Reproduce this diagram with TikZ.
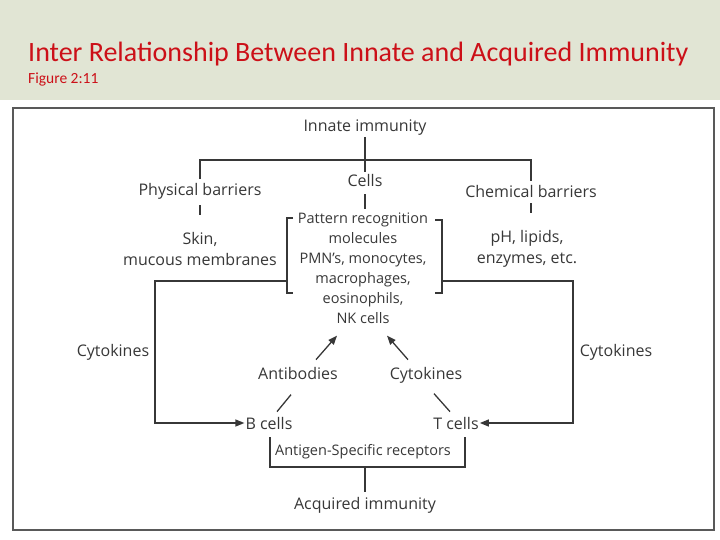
\documentclass[tikz,border=0pt]{standalone}
\usepackage{fontspec}
\setmainfont{Open Sans}
\newfontfamily\titlefont{Carlito}
\usetikzlibrary{positioning,arrows.meta,calc}
\definecolor{hdrgreen}{RGB}{225,229,212}
\definecolor{titlered}{RGB}{204,16,24}
\definecolor{scanink}{RGB}{55,55,55}

\begin{document}
\begin{tikzpicture}[x=1pt, y=-1pt,
    lbl/.style={text=scanink, font=\fontsize{16}{21}\selectfont, inner sep=1pt, align=center},
    conn/.style={draw=scanink, line width=1.3pt},
    arr/.style={conn, -{Triangle[length=9pt,width=7pt]}}]
    \useasboundingbox (0,0) rectangle (720,540);
    \fill[hdrgreen] (0,0) rectangle (720,100);
    \draw[gray!70!black, line width=1.2pt] (13,108) rectangle (714,530);

    \node[anchor=west, text=titlered, font=\titlefont\fontsize{28}{30}\selectfont, inner sep=0pt] (title) at (28,54) {Inter Relationship Between Innate and Acquired Immunity};
    \node[anchor=west, text=titlered, font=\titlefont\fontsize{15.5}{17}\selectfont, inner sep=0pt] (fig) at (28,80) {Figure 2:11};

    % innate side
    \node[lbl] (innate) at (365,128) {Innate immunity};
    \coordinate (bar) at (365,160);
    \node[lbl] (phys) at (200,191) {Physical barriers};
    \node[lbl] (cells) at (365,181) {Cells};
    \node[lbl] (chem) at (531,191) {Chemical barriers};
    \node[lbl] (skin) at (200,249) {Skin,\\mucous membranes};
    \node[lbl] (ph) at (527,249) {pH, lipids,\\enzymes, etc.};
    \node[lbl, font=\fontsize{14.5}{20}\selectfont] (cellbox) at (363,268) {Pattern recognition\\molecules\\PMN's, monocytes,\\macrophages,\\eosinophils,\\NK cells};

    \draw[conn] (innate) -- (bar);
    \draw[conn, shorten <=3pt, shorten >=3pt] (phys) |- (bar) -| (chem);
    \draw[conn, shorten >=2pt] (bar) -- (cells);
    \draw[conn, shorten <=5pt, shorten >=16pt] (phys) -- (phys |- skin.north);
    \draw[conn, shorten <=5pt, shorten >=16pt] (chem) -- (chem |- ph.north);
    \draw[conn, shorten <=6pt, shorten >=2pt] (cells) -- (cells |- cellbox.north);

    % brackets round the cell list
    \coordinate (brL) at (287,281);
    \coordinate (brR) at (442,281);
    \draw[conn] (293,218) -| (287,293) -- (293,293);
    \draw[conn] (435,220) -| (442,293) -- (435,293);

    % acquired side
    \node[lbl] (cytL) at (113,352) {Cytokines};
    \node[lbl] (cytR) at (616,352) {Cytokines};
    \node[lbl, anchor=base] (antib) at (298,379) {Antibodies};
    \node[lbl, anchor=base] (cytM) at (426,379) {Cytokines};
    \node[lbl, anchor=base] (bcells) at (269,429) {B cells};
    \node[lbl, anchor=base] (tcells) at (456,429) {T cells};
    \node[lbl, font=\fontsize{14.5}{17}\selectfont] (antigen) at (363,452) {Antigen-Specific receptors};
    \node[lbl] (acq) at (365,505) {Acquired immunity};

    \draw[arr] (brL) -- (155,281) |- (bcells.west);
    \draw[arr] (brR) -- (573,281) |- (tcells.east);
    \draw[arr] (antib.north) ++(18,-6) -- ++(21,-24);
    \draw[arr] (cytM.north) ++(-18,-6) -- ++(-21,-24);
    \draw[conn] (bcells.north) ++(8,-4) -- ++(14,-17);
    \draw[conn] (tcells.north) ++(-6,-4) -- ++(-16,-18);

    \coordinate (acqbar) at (365,467);
    \draw[conn] (270,437) |- (acqbar) -| (465,437);
    \draw[conn, shorten >=4pt] (acqbar) -- (acq);
\end{tikzpicture}
\end{document}
